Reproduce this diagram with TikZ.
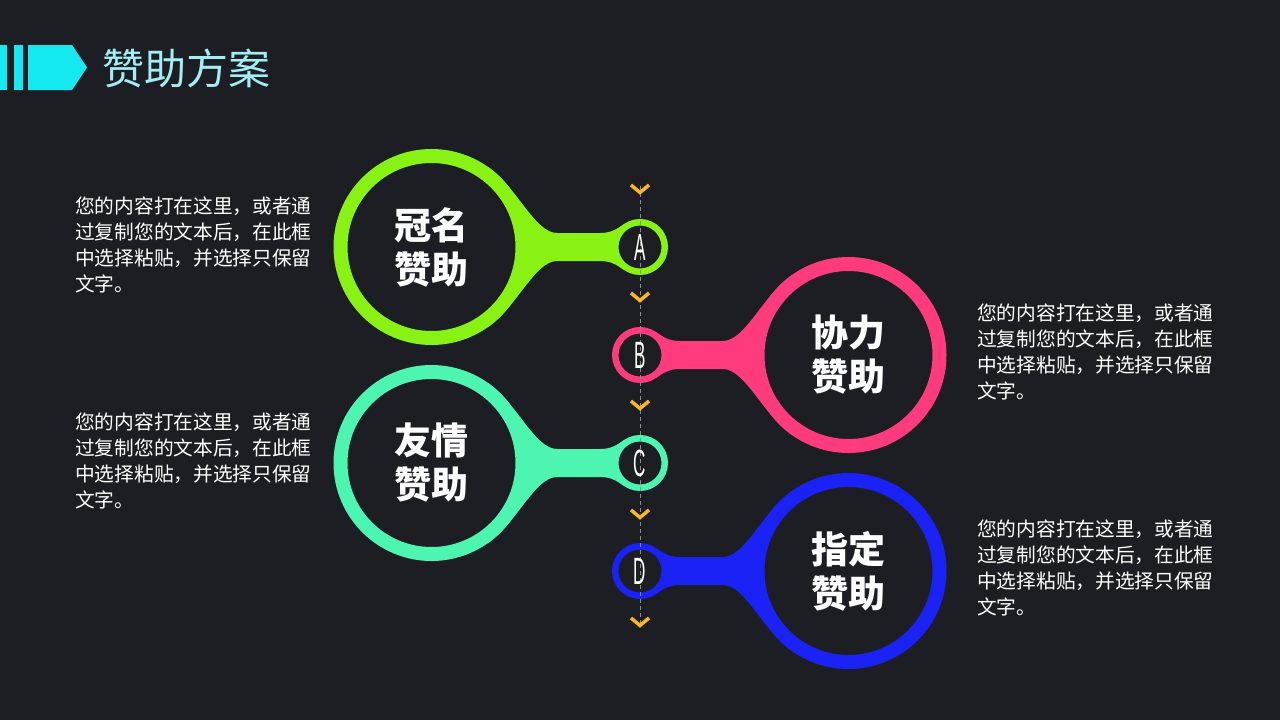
\documentclass[tikz,border=0pt]{standalone}
\usepackage{fontspec}
\setmainfont{Noto Sans CJK SC}
\newfontfamily\letterfont{Liberation Sans}
\usetikzlibrary{positioning,calc}
\pgfdeclarelayer{back}
\pgfdeclarelayer{background}
\pgfsetlayers{back,background,main}
\definecolor{bgdark}{HTML}{1D1E23}
\definecolor{lime}{HTML}{88F213}
\definecolor{rose}{HTML}{FF3B7E}
\definecolor{mint}{HTML}{4CF6B0}
\definecolor{royal}{HTML}{1A22F6}
\definecolor{aqua}{HTML}{14E8F0}
\definecolor{titlecyan}{HTML}{A2EEF4}
\definecolor{amber}{HTML}{F8B820}
\definecolor{dashgrey}{HTML}{8C8C8C}
\newcommand\filler{您的内容打在这里，或者通\\过复制您的文本后，在此框\\中选择粘贴，并选择只保留\\文字。}

\begin{document}
\begin{tikzpicture}[x=1pt,y=-1pt,
    bigring/.style={circle,draw,line width=14pt,fill=bgdark,minimum size=182pt,inner sep=0pt,outer sep=7pt,
      text=white,align=center,font=\fontsize{37}{44}\selectfont\bfseries},
    smallring/.style={circle,draw,line width=6.5pt,fill=bgdark,minimum size=49.5pt,inner sep=0pt,outer sep=3.25pt},
    tag/.style={inner sep=0pt,text=white,font=\letterfont\fontsize{38}{38}\selectfont},
    blurb/.style={anchor=north west,inner sep=0pt,align=left,text=white,font=\fontsize{19.7}{26}\selectfont},
    chevron/.style={draw=amber,line width=3.5pt}]

   \begin{pgfonlayer}{back}
     \fill[bgdark] (0,0) rectangle (1280,720);
   \end{pgfonlayer}

   \fill[aqua] (0,45) rectangle (7,90);
   \fill[aqua] (14,45) rectangle (23,90);
   \fill[aqua] (28,45) -- (72,45) -- (87,67.5) -- (72,90) -- (28,90) -- cycle;
   \node[anchor=west,inner sep=0pt,text=titlecyan,font=\fontsize{42}{42}\selectfont] (title) at (102,68) {赞助方案};

   \foreach \n/\y/\d/\c/\head in {A/247/-1/lime/冠名, B/355/1/rose/协力, C/463/-1/mint/友情, D/571/1/royal/指定}{
     \node[bigring,draw=\c] (big\n) at ({640+\d*208.5},\y) {\head\\赞助};
     \node[smallring,draw=\c] (dot\n) at (640,\y) {};
   }

   \begin{pgfonlayer}{background}
   \foreach \n/\d/\c in {A/-1/lime, B/1/rose, C/-1/mint, D/1/royal}{
     \pgfmathtruncatemacro\ua{90+\d*35}
     \pgfmathtruncatemacro\sa{90-\d*35}
     \fill[\c] (big\n.\ua) .. controls +(-\d*29,20) and +(\d*22,0) .. ($(dot\n)+(\d*83,-14)$)
       -- ($(dot\n)+(\d*40,-14)$) .. controls +(-\d*12,0) and +(\d*6.5,4.4) .. (dot\n.\sa)
       -- (dot\n.-\sa) .. controls +(\d*6.5,-4.4) and +(-\d*12,0) .. ($(dot\n)+(\d*40,14)$)
       -- ($(dot\n)+(\d*83,14)$) .. controls +(\d*22,0) and +(-\d*29,-20) .. (big\n.-\ua)
       -- cycle;
   }
   \end{pgfonlayer}

   \coordinate (railtop) at (640,186);
   \coordinate (railend) at (640,626);
   \draw[dashgrey,line width=1pt,dash pattern=on 4pt off 3pt] (railtop) -- (railend);
   \foreach \y in {189,297,405,514,622}
     \draw[chevron] (631,\y-4) -- (640,\y+3.5) -- (649,\y-4);

   \foreach \n in {A,B,C,D}
     \node[tag] (tag\n) at (dot\n) {\scalebox{0.45}[1]{\n}};

   \node[blurb] (textA) at (75,197) {\filler};
   \node[blurb] (textB) at (977,304) {\filler};
   \node[blurb] (textC) at (75,413) {\filler};
   \node[blurb] (textD) at (977,520) {\filler};
\end{tikzpicture}
\end{document}
